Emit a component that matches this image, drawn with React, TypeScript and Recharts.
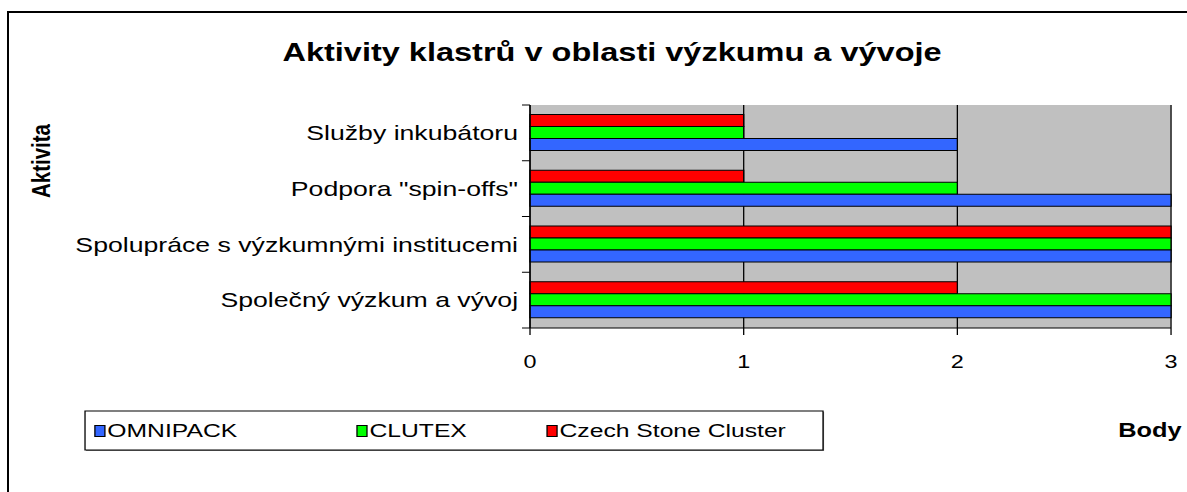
import React from 'react';
import { BarChart, Bar, XAxis, YAxis, CartesianGrid } from 'recharts';

const categories = [
  'Služby inkubátoru',
  'Podpora "spin-offs"',
  'Spolupráce s výzkumnými institucemi',
  'Společný výzkum a vývoj',
];
const omnipack = [2, 3, 3, 3];
const clutex = [1, 2, 3, 3];
const czechStone = [1, 1, 3, 2];
const xTicks = [0, 1, 2, 3];

const series = [
  { key: 'czech', name: 'Czech Stone Cluster', color: '#FF0000', values: czechStone },
  { key: 'clutex', name: 'CLUTEX', color: '#00FF00', values: clutex },
  { key: 'omnipack', name: 'OMNIPACK', color: '#3366FF', values: omnipack },
];
// legend shows them the other way round
const legendOrder = ['omnipack', 'clutex', 'czech'];

const data = categories.map((name, i) => {
  const row: any = { name };
  series.forEach((s) => (row[s.key] = s.values[i]));
  return row;
});

// the reference is stretched sideways, so draw narrow and scale the whole thing
const STRETCH = 1.3;
const W = 913;
const H = 492;
const MARGIN = { top: 105, right: 12.2, left: 7.7, bottom: 134 };
const X_AXIS_H = 30;
const Y_AXIS_W = 400;
const BAND = (H - MARGIN.top - MARGIN.bottom - X_AXIS_H) / categories.length;
const FONT = '"Liberation Sans", Arial, sans-serif';

const CategoryTick = (props: any) => {
  const { x, y, payload, index } = props;
  const half = BAND / 2;
  return (
    <g>
      <line x1={x - 6.2} x2={x} y1={y - half} y2={y - half} stroke="#000" />
      {index === categories.length - 1 && (
        <line x1={x - 6.2} x2={x} y1={y + half} y2={y + half} stroke="#000" />
      )}
      <text x={x - 9.2} y={y} textAnchor="end" dominantBaseline="central" fontSize={20.5} fill="#000" fontFamily={FONT}>
        {payload.value}
      </text>
    </g>
  );
};

const legendX = [73, 274.6, 420.8];

export default function App() {
  return (
    <div style={{ position: 'absolute', left: 0, top: 0, width: 1187, height: H, overflow: 'hidden', background: '#fff' }}>
      <div
        style={{
          position: 'absolute',
          left: 7,
          top: 11,
          width: 1200,
          height: 500,
          borderLeft: '2px solid #000',
          borderTop: '2px solid #000',
        }}
      />
      <div
        style={{
          position: 'absolute',
          left: 0,
          top: 0,
          width: W,
          height: H,
          transform: `scaleX(${STRETCH})`,
          transformOrigin: '0 0',
          fontFamily: FONT,
        }}
      >
        <BarChart
          width={W}
          height={H}
          data={data}
          layout="vertical"
          margin={MARGIN}
          barGap={0}
          barCategoryGap="17%"
        >
          <CartesianGrid horizontal={false} stroke="#000" fill="#C0C0C0" />
          <XAxis
            type="number"
            domain={[0, 3]}
            ticks={xTicks}
            height={X_AXIS_H}
            axisLine={{ stroke: '#000' }}
            tickLine={{ stroke: '#000' }}
            tickSize={7}
            tickMargin={20}
            tick={{ fill: '#000', fontSize: 18, fontFamily: FONT }}
          />
          <YAxis
            type="category"
            dataKey="name"
            width={Y_AXIS_W}
            axisLine={{ stroke: '#000' }}
            tickLine={false}
            tickSize={0}
            tickMargin={0}
            interval={0}
            tick={<CategoryTick />}
          />
          {series.map((s) => (
            <Bar
              key={s.key}
              dataKey={s.key}
              name={s.name}
              fill={s.color}
              stroke="#000"
              strokeWidth={1}
              isAnimationActive={false}
            />
          ))}
        </BarChart>
        <svg width={W} height={H} style={{ position: 'absolute', left: 0, top: 0, pointerEvents: 'none' }}>
          <text x={470.8} y={61} textAnchor="middle" fontSize={25} fontWeight="bold" fontFamily={FONT} fill="#000">
            Aktivity klastrů v oblasti výzkumu a vývoje
          </text>
          <text
            x={0}
            y={0}
            transform="translate(30.8,161) rotate(-90)"
            textAnchor="middle"
            dominantBaseline="central"
            fontSize={20.5}
            fontWeight="bold"
            fontFamily={FONT}
            fill="#000"
          >
            Aktivita
          </text>
          <text x={884.6} y={437} textAnchor="middle" fontSize={19.5} fontWeight="bold" fontFamily={FONT} fill="#000">
            Body
          </text>
          <rect x={66.2} y={412} width={567.7} height={39} fill="#808080" />
          <rect x={65.4} y={411} width={567.7} height={39} fill="#fff" stroke="#000" strokeWidth={1} />
          {legendOrder.map((k, i) => {
            const s = series.find((d) => d.key === k)!;
            return (
              <g key={k}>
                <rect x={legendX[i]} y={425.5} width={7.7} height={11} fill={s.color} stroke="#000" strokeWidth={1} />
                <text x={legendX[i] + 9.6} y={437.5} fontSize={19} fontFamily={FONT} fill="#000">
                  {s.name}
                </text>
              </g>
            );
          })}
        </svg>
      </div>
    </div>
  );
}
